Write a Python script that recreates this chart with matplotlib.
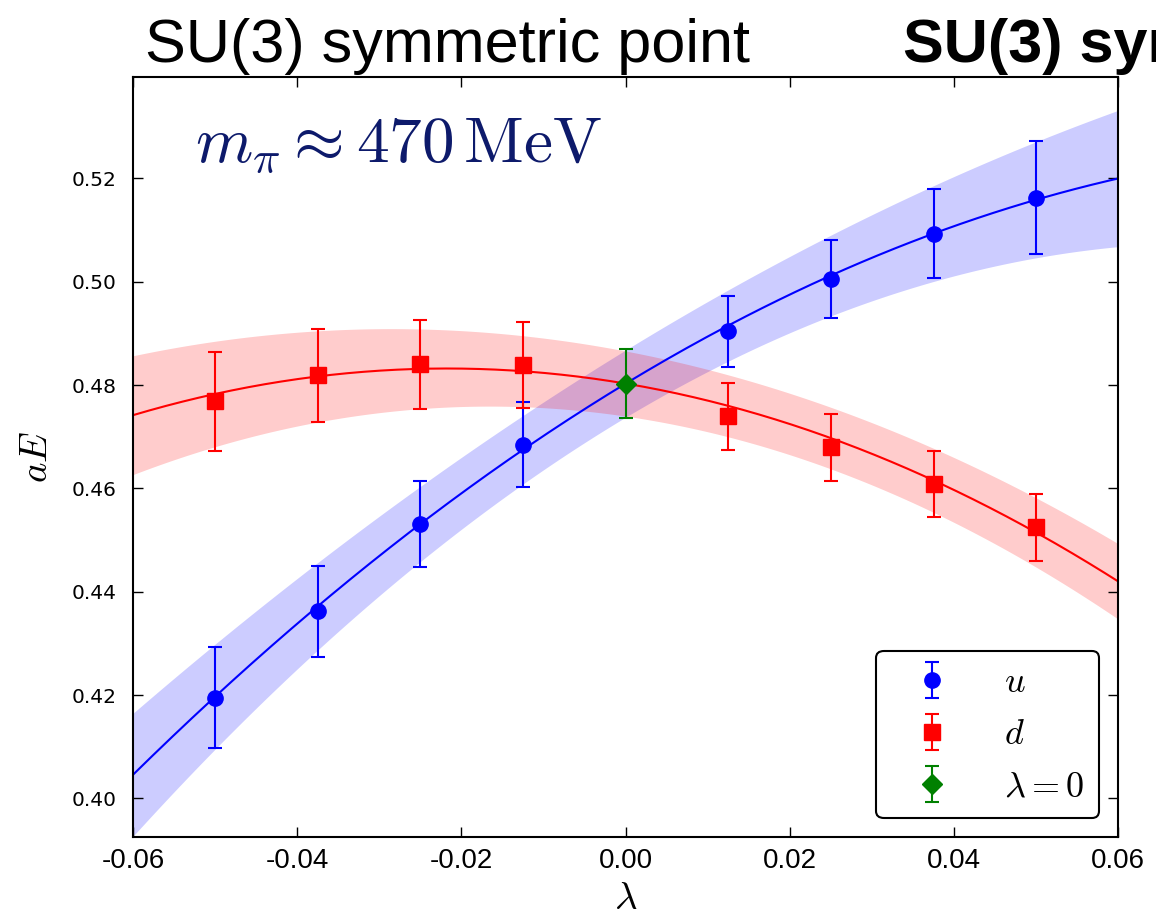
import numpy as np
import matplotlib
matplotlib.use('Agg')
import matplotlib.pyplot as plt

# ---- data ----
lam = [-0.05, -0.0375, -0.025, -0.0125, 0.0125, 0.025, 0.0375, 0.05]
u_val = [0.4195, 0.4362, 0.4531, 0.4685, 0.4904, 0.5005, 0.5093, 0.5163]
u_err = [0.0098, 0.0088, 0.0084, 0.0082, 0.0069, 0.0075, 0.0086, 0.0110]
d_val = [0.4769, 0.4819, 0.4840, 0.4839, 0.4740, 0.4680, 0.4609, 0.4525]
d_err = [0.0096, 0.0090, 0.0086, 0.0083, 0.0065, 0.0065, 0.0064, 0.0065]
sym_lam = [0.0]
sym_val = [0.4803]
sym_err = [0.0067]

# quadratic fit coefficients (highest power first) and band half-width coefficients
fit_u = [-5.0, 0.9617, 0.4803]
band_u = [1.68, 0.0108, 0.0065]
fit_d = [-6.17, -0.2683, 0.4803]
band_d = [0.861, -0.035, 0.0063]

xticks = [-0.06, -0.04, -0.02, 0.00, 0.02, 0.04, 0.06]
xticklabels = ['-0.06', '-0.04', '-0.02', '0.00', '0.02', '0.04', '0.06']
yticks = [0.40, 0.42, 0.44, 0.46, 0.48, 0.50, 0.52]
yticklabels = ['0.40', '0.42', '0.44', '0.46', '0.48', '0.50', '0.52']

plt.rcParams['mathtext.fontset'] = 'cm'

fig = plt.figure(figsize=(11.56, 9.15), dpi=100)
ax = fig.add_axes([0.1151, 0.0856, 0.9674 - 0.1151, 0.9162 - 0.0856])

xs = np.linspace(-0.06, 0.06, 300)
cu = np.polyval(fit_u, xs)
su = np.polyval(band_u, xs)
cd = np.polyval(fit_d, xs)
sd = np.polyval(band_d, xs)

ax.fill_between(xs, cu - su, cu + su, color='blue', alpha=0.2, lw=0, zorder=1)
ax.fill_between(xs, cd - sd, cd + sd, color='red', alpha=0.2, lw=0, zorder=1)
ax.plot(xs, cu, color='blue', lw=1.5, zorder=2)
ax.plot(xs, cd, color='red', lw=1.5, zorder=2)

common = dict(ls='none', capsize=5, elinewidth=1.5, capthick=1.5, zorder=3)
ax.errorbar(lam, u_val, yerr=u_err, marker='o', ms=11, color='blue',
            mec='blue', label=r'$u$', **common)
ax.errorbar(lam, d_val, yerr=d_err, marker='s', ms=11, color='red',
            mec='red', label=r'$d$', **common)
ax.errorbar(sym_lam, sym_val, yerr=sym_err, marker='D', ms=10, color='green',
            mec='green', label=r'$\lambda=0$', **common)

ax.set_xlim(-0.06, 0.06)
ax.set_ylim(0.3926, 0.5397)
ax.set_xticks(xticks)
ax.set_xticklabels(xticklabels, fontfamily='Liberation Sans', fontsize=20)
ax.set_yticks(yticks)
ax.set_yticklabels(yticklabels, fontfamily='DejaVu Sans', fontsize=14.5)
ax.tick_params(which='both', direction='in', top=True, right=True,
               length=7, width=1)
ax.tick_params(axis='x', pad=8)
ax.tick_params(axis='y', pad=12)
for s in ax.spines.values():
    s.set_linewidth(1.5)

ax.set_xlabel(r'$\lambda$', fontsize=28, labelpad=4)
ax.set_ylabel(r'$aE$', fontsize=28, labelpad=12)

ax.text(0.063, 0.888, r'$m_\pi \approx 470\,\mathrm{MeV}$', transform=ax.transAxes,
        fontsize=47, color='#0d1a6b', va='baseline', ha='left')

leg = ax.legend(loc='lower right', bbox_to_anchor=(0.9804, 0.0246),
                borderaxespad=0, fontsize=26, numpoints=1, fancybox=True,
                framealpha=1, edgecolor='black', handletextpad=0.86,
                borderpad=0.4, labelspacing=0.5, handlelength=2.28)
leg.get_frame().set_linewidth(1.5)

fig.text(145 / 1156, 1 - 62 / 915, 'SU(3) symmetric point', fontsize=44,
         fontfamily='Liberation Sans', va='baseline', ha='left')
fig.text(903 / 1156, 1 - 62 / 915, 'SU(3) symmetric point', fontsize=44,
         fontfamily='Liberation Sans', fontweight='bold', va='baseline', ha='left')

fig.savefig('out.png', dpi=100)
